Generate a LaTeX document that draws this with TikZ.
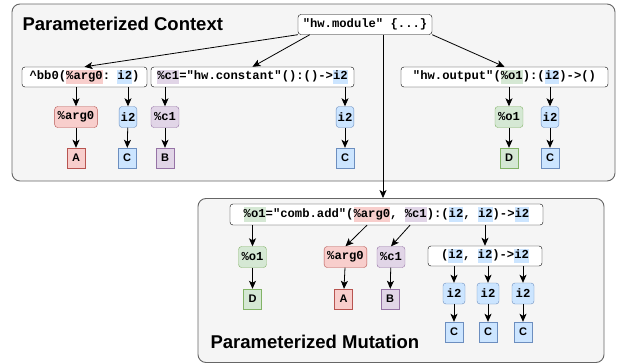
\documentclass[tikz,border=0pt]{standalone}
\usepackage{fontspec}
\setmainfont{Liberation Sans}
\setsansfont{Liberation Sans}
\setmonofont{Liberation Mono}
\usetikzlibrary{arrows.meta}

\definecolor{redF}{HTML}{F8CECC}
\definecolor{redD}{HTML}{B85450}
\definecolor{bluF}{HTML}{CCE5FF}
\definecolor{bluD}{HTML}{6C8EBF}
\definecolor{purF}{HTML}{E1D5E7}
\definecolor{purD}{HTML}{9673A6}
\definecolor{grnF}{HTML}{D5E8D4}
\definecolor{grnD}{HTML}{82B366}
\definecolor{panF}{HTML}{F5F5F5}
\definecolor{panD}{HTML}{666666}

\setlength{\fboxsep}{0pt}
\newcommand{\mk}[2]{\colorbox{#1}{\strut #2}}

\begin{document}
\begin{tikzpicture}[x=1pt, y=-1pt,
  code/.style={font=\ttfamily\bfseries\fontsize{12.2}{14.5}\selectfont},
  op/.style={code, draw, fill=white, rounded corners=3pt, inner sep=0pt, minimum height=20pt},
  val/.style={code, draw=#1D, fill=#1F, rounded corners=3pt, inner xsep=3pt, inner ysep=0pt, minimum height=21pt},
  let/.style={draw=#1D, fill=#1F, font=\sffamily\bfseries\fontsize{11}{13}\selectfont, inner sep=0pt, minimum width=18pt, minimum height=20pt},
  panel/.style={draw=panD, fill=panF, rounded corners=8pt, line width=0.9pt},
  title/.style={font=\sffamily\bfseries\fontsize{18.5}{21}\selectfont, anchor=west},
  arr/.style={-{Stealth[length=8pt, width=7pt, inset=2pt]}, line width=0.8pt}]

\useasboundingbox (0,0) rectangle (619,364);

% containers
\node[panel, minimum width=603pt, minimum height=177pt] (ctx) at (313.5,92.5) {};
\node[panel, minimum width=406pt, minimum height=164pt] (mut) at (401,280.5) {};
\node[title] at (19,24) {Parameterized Context};
\node[title] at (207,342) {Parameterized Mutation};

% context
\node[op, minimum width=134pt] (mod) at (365,24.5) {"hw.module" \{...\}};
\node[op, minimum width=125pt] (bb) at (84.5,77) {\textasciicircum bb0(\mk{redF}{\%arg0}: \mk{bluF}{i2})};
\node[op, minimum width=203pt] (cst) at (252.5,77) {\mk{purF}{\%c1}="hw.constant"():()->\mk{bluF}{i2}};
\node[op, minimum width=207pt] (out) at (504.5,77) {"hw.output"(\mk{grnF}{\%o1}):(\mk{bluF}{i2})->()};

\node[val=red] (argA) at (76,117) {\%arg0};
\node[val=blu, inner xsep=1.5pt] (tyA) at (128,117) {i2};
\node[val=pur] (cA) at (165,117) {\%c1};
\node[val=blu, inner xsep=1.5pt] (tyB) at (345,117) {i2};
\node[val=grn] (oA) at (509,117) {\%o1};
\node[val=blu, inner xsep=1.5pt] (tyC) at (550,117) {i2};

\node[let=red] (A1) at (76,158) {A};
\node[let=blu] (C1) at (127,158) {C};
\node[let=pur] (B1) at (165,158) {B};
\node[let=blu] (C2) at (345,158) {C};
\node[let=grn] (D1) at (509,158) {D};
\node[let=blu] (C3) at (550,158) {C};

\draw[arr] (mod.south west) -- (bb.north);
\draw[arr] ([xshift=12pt]mod.south west) -- (cst.north);
\draw[arr] (mod.south east) -- (out.north);
\coordinate (M) at ([xshift=18pt]mod.south);
\draw[arr] (M) -- (M |- mut.north);

\draw[arr] (bb.south -| argA) -- (argA);
\draw[arr] (bb.south -| tyA) -- (tyA);
\draw[arr] (cst.south -| cA) -- (cA);
\draw[arr] (cst.south -| tyB) -- (tyB);
\draw[arr] (out.south -| oA) -- (oA);
\draw[arr] (out.south -| tyC) -- (tyC);
\draw[arr] (argA) -- (A1);
\draw[arr] (tyA) -- (C1);
\draw[arr] (cA) -- (B1);
\draw[arr] (tyB) -- (C2);
\draw[arr] (oA) -- (D1);
\draw[arr] (tyC) -- (C3);

% mutation
\node[op, minimum width=313pt, minimum height=21pt] (add) at (386.5,214.5) {\mk{grnF}{\%o1}="comb.add"(\mk{redF}{\%arg0}, \mk{purF}{\%c1}):(\mk{bluF}{i2}, \mk{bluF}{i2})->\mk{bluF}{i2}};
\node[val=grn] (oB) at (252.5,257) {\%o1};
\node[val=red] (argB) at (345.5,257) {\%arg0};
\node[val=pur] (cB) at (391,257) {\%c1};
\node[op, minimum width=114pt] (sig) at (485,256) {(\mk{bluF}{i2}, \mk{bluF}{i2})->\mk{bluF}{i2}};

\node[let=grn] (D2) at (252.5,299) {D};
\node[let=red] (A2) at (343.5,299) {A};
\node[let=pur] (B2) at (390,299) {B};

\node[val=blu, minimum width=22pt] (tyD) at (454,293.5) {i2};
\node[val=blu, minimum width=22pt] (tyE) at (488,293.5) {i2};
\node[val=blu, minimum width=22pt] (tyF) at (523,293.5) {i2};
\node[let=blu] (C4) at (454,332) {C};
\node[let=blu] (C5) at (488,332) {C};
\node[let=blu] (C6) at (523,332) {C};

\draw[arr] (add.south -| oB) -- (oB);
\draw[arr] (add.south -| argB.east) -- (argB.north);
\draw[arr] ([xshift=23.5pt]add.south) -- (cB.north);
\draw[arr] (add.south -| sig) -- (sig);
\draw[arr] (oB) -- (D2);
\draw[arr] (argB) -- (A2);
\draw[arr] (cB) -- (B2);
\draw[arr] (sig.south -| tyD) -- (tyD);
\draw[arr] (sig.south -| tyE) -- (tyE);
\draw[arr] (sig.south -| tyF) -- (tyF);
\draw[arr] (tyD) -- (C4);
\draw[arr] (tyE) -- (C5);
\draw[arr] (tyF) -- (C6);

\end{tikzpicture}
\end{document}
